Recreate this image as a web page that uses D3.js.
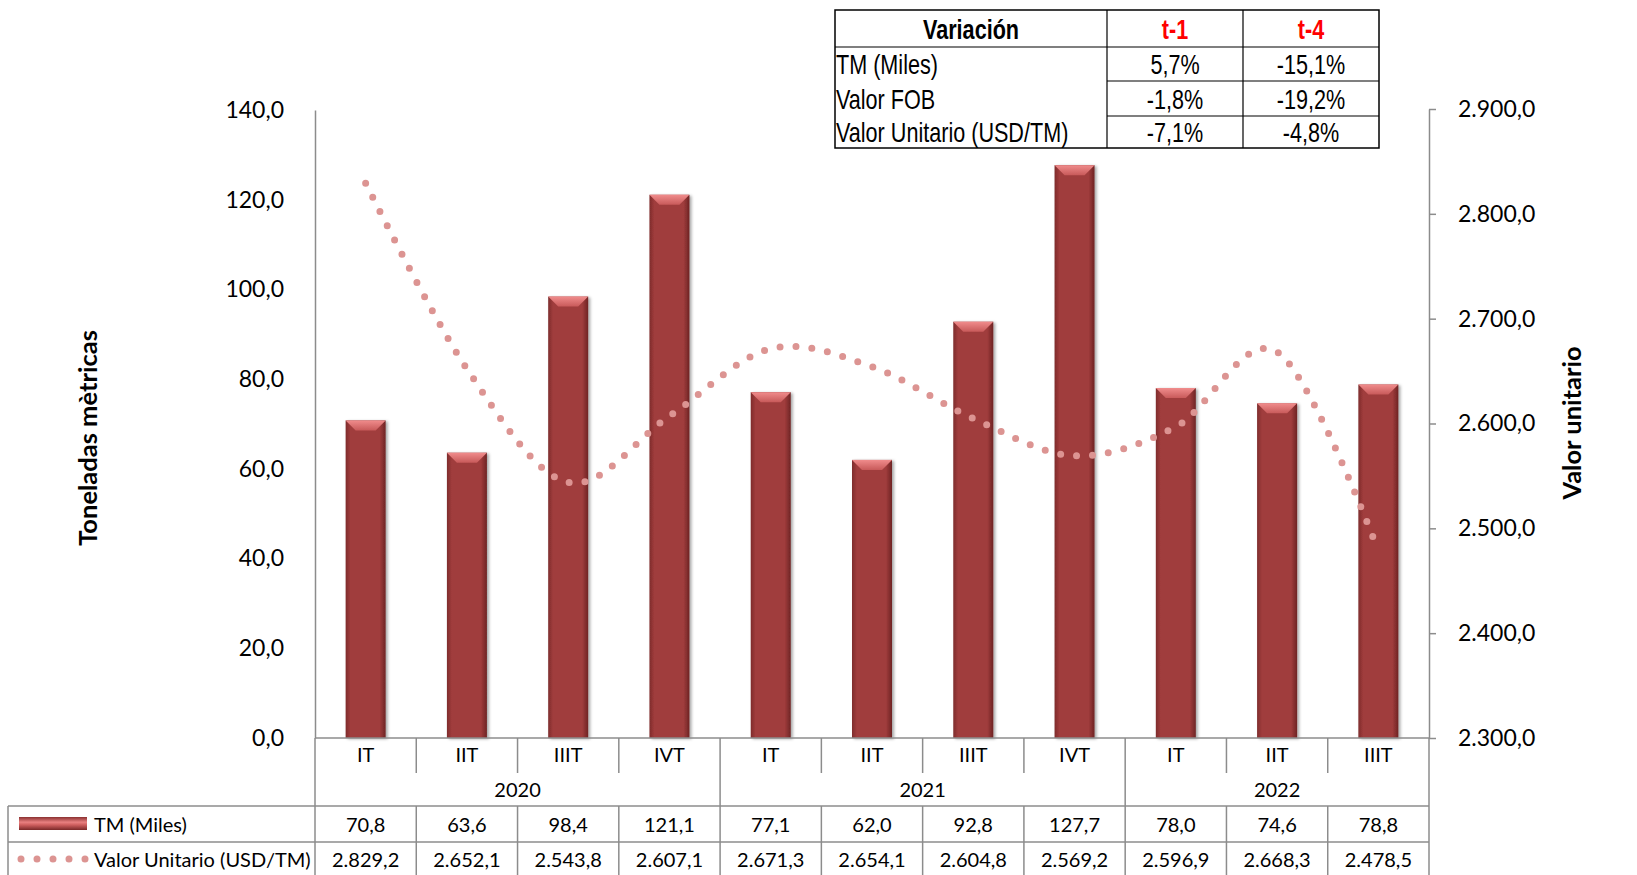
<!DOCTYPE html>
<html>
<head>
<meta charset="utf-8">
<script src="https://cdn.jsdelivr.net/npm/d3@7"></script>
<style>
  body { margin: 0; background: #fff; }
  svg { display: block; }
  .lbl { font-family: Lato, "Open Sans", sans-serif; fill: #000; }
  .nar { font-family: "Liberation Sans", Arial, sans-serif; fill: #000; }
</style>
</head>
<body>
<svg id="chart" width="1637" height="875"></svg>
<script>
// data
const quarters = ["IT", "IIT", "IIIT", "IVT", "IT", "IIT", "IIIT", "IVT", "IT", "IIT", "IIIT"];
const years = [
  { year: "2020", from: 0, to: 3 },
  { year: "2021", from: 4, to: 7 },
  { year: "2022", from: 8, to: 10 }
];
const tmMiles = [70.8, 63.6, 98.4, 121.1, 77.1, 62.0, 92.8, 127.7, 78.0, 74.6, 78.8];
const valorUnit = [2829.2, 2652.1, 2543.8, 2607.1, 2671.3, 2654.1, 2604.8, 2569.2, 2596.9, 2668.3, 2478.5];
const leftTicks = [0, 20, 40, 60, 80, 100, 120, 140];
const rightTicks = [2300, 2400, 2500, 2600, 2700, 2800, 2900];

const varHeader = ["Variación", "t-1", "t-4"];
const varRows = ["TM (Miles)", "Valor FOB", "Valor Unitario (USD/TM)"];
const varT1 = ["5,7%", "-1,8%", "-7,1%"];
const varT4 = ["-15,1%", "-19,2%", "-4,8%"];

const svg = d3.select("#chart");
const margin = { top: 110, left: 315, right: 1429, bottom: 738 };
const locale = d3.formatLocale({ decimal: ",", thousands: ".", grouping: [3] });
const fmt = locale.format(",.1f");
const keys = d3.range(quarters.length);

const x = d3.scaleBand().domain(keys).range([margin.left, margin.right]).paddingInner(0).paddingOuter(0);
const y = d3.scaleLinear().domain([0, 140]).range([margin.bottom, margin.top]);
const y2 = d3.scaleLinear().domain([2300, 2900]).range([margin.bottom, margin.top - 1]);

// gradients
const defs = svg.append("defs");
const barGrad = defs.append("linearGradient").attr("id", "barGrad").attr("x1", 0).attr("x2", 1).attr("y1", 0).attr("y2", 0);
barGrad.append("stop").attr("offset", "0%").attr("stop-color", "#7e2c2c");
barGrad.append("stop").attr("offset", "12%").attr("stop-color", "#a03c3c");
barGrad.append("stop").attr("offset", "85%").attr("stop-color", "#a03c3c");
barGrad.append("stop").attr("offset", "100%").attr("stop-color", "#6e2424");
const bevGrad = defs.append("linearGradient").attr("id", "bevGrad").attr("x1", 0).attr("x2", 0).attr("y1", 0).attr("y2", 1);
bevGrad.append("stop").attr("offset", "0%").attr("stop-color", "#f08c8c");
bevGrad.append("stop").attr("offset", "100%").attr("stop-color", "#c85a5a");
const keyGrad = defs.append("linearGradient").attr("id", "keyGrad").attr("x1", 0).attr("x2", 0).attr("y1", 0).attr("y2", 1);
keyGrad.append("stop").attr("offset", "0%").attr("stop-color", "#8a3030");
keyGrad.append("stop").attr("offset", "40%").attr("stop-color", "#e88080");
keyGrad.append("stop").attr("offset", "60%").attr("stop-color", "#d06060");
keyGrad.append("stop").attr("offset", "100%").attr("stop-color", "#7a2828");
const shadow = defs.append("filter").attr("id", "shadow").attr("x", "-30%").attr("y", "-10%").attr("width", "160%").attr("height", "130%");
shadow.append("feDropShadow").attr("dx", 2).attr("dy", 1).attr("stdDeviation", 1.5).attr("flood-color", "#000").attr("flood-opacity", 0.35);

// bars
const bw = 40;
const bars = svg.append("g").selectAll("g").data(tmMiles).enter().append("g");
bars.append("rect")
  .attr("x", (d, i) => x(i) + x.bandwidth() / 2 - bw / 2)
  .attr("y", d => y(d))
  .attr("width", bw)
  .attr("height", d => y(0) - y(d))
  .attr("fill", "url(#barGrad)")
  .attr("filter", "url(#shadow)");
bars.append("path")
  .attr("d", (d, i) => {
    const x0 = x(i) + x.bandwidth() / 2 - bw / 2, y0 = y(d), b = 10;
    return `M${x0},${y0}L${x0 + bw},${y0}L${x0 + bw - b},${y0 + b}L${x0 + b},${y0 + b}Z`;
  })
  .attr("fill", "url(#bevGrad)");

// dotted line
const line = d3.line()
  .curve(d3.curveCardinal.tension(0))
  .x((d, i) => x(i) + x.bandwidth() / 2)
  .y(d => y2(d));
const vuPath = svg.append("path")
  .datum(valorUnit)
  .attr("d", line)
  .attr("fill", "none")
  .attr("stroke", "#dc9492")
  .attr("stroke-width", 7)
  .attr("stroke-linecap", "round");
// spread the dots so one sits on each end of the curve
const len = vuPath.node().getTotalLength();
const gap = len / Math.round(len / 16);
vuPath.attr("stroke-dasharray", `0 ${gap}`);

// axes
const gridCol = "#8c8c8c";
const leftAxis = svg.append("g")
  .attr("transform", `translate(${margin.left},0)`)
  .call(d3.axisLeft(y).tickValues(leftTicks).tickFormat(fmt).tickSize(0).tickPadding(31));
leftAxis.select(".domain").attr("stroke", gridCol).attr("stroke-width", 1.5);
leftAxis.selectAll("text").attr("class", "lbl").style("font-size", "23px").attr("fill", "#000");

const rightAxis = svg.append("g")
  .attr("transform", `translate(${margin.right},0)`)
  .call(d3.axisRight(y2).tickValues(rightTicks).tickFormat(fmt).tickSize(7).tickSizeOuter(0).tickPadding(22));
rightAxis.selectAll(".domain, line").attr("stroke", gridCol).attr("stroke-width", 1.5);
rightAxis.selectAll("text").attr("class", "lbl").style("font-size", "23px").attr("fill", "#000");

// axis titles
svg.append("text").attr("class", "lbl")
  .attr("transform", "translate(87,438) rotate(-90)")
  .attr("text-anchor", "middle").attr("dominant-baseline", "central")
  .style("font-size", "25.5px").style("font-weight", "bold")
  .text("Toneladas mètricas");
svg.append("text").attr("class", "lbl")
  .attr("transform", "translate(1571,423) rotate(-90)")
  .attr("text-anchor", "middle").attr("dominant-baseline", "central")
  .style("font-size", "25.5px").style("font-weight", "bold")
  .text("Valor unitario");

// data table under the chart
const tbl = svg.append("g").attr("stroke", gridCol).attr("stroke-width", 1.5);
const rowYear = 806, rowTM = 842, rowEnd = 875, legL = 8;
tbl.append("line").attr("x1", margin.left).attr("x2", margin.right).attr("y1", margin.bottom).attr("y2", margin.bottom);
tbl.append("line").attr("x1", margin.left).attr("x2", margin.left).attr("y1", margin.bottom).attr("y2", rowEnd);
tbl.append("line").attr("x1", margin.right).attr("x2", margin.right).attr("y1", margin.bottom).attr("y2", rowEnd);
[rowYear, rowTM].forEach(yy => tbl.append("line").attr("x1", legL).attr("x2", margin.right).attr("y1", yy).attr("y2", yy));
tbl.append("line").attr("x1", legL).attr("x2", legL).attr("y1", rowYear).attr("y2", rowEnd);
keys.slice(1).forEach(i => {
  const isYear = years.some(g => g.from === i);
  tbl.append("line").attr("x1", x(i)).attr("x2", x(i))
    .attr("y1", margin.bottom).attr("y2", isYear ? rowEnd : margin.bottom + 35);
  if (!isYear)
    tbl.append("line").attr("x1", x(i)).attr("x2", x(i)).attr("y1", rowYear).attr("y2", rowEnd);
});

const txt = svg.append("g").attr("class", "lbl").style("font-size", "20px").attr("text-anchor", "middle");
txt.selectAll(".q").data(quarters).enter().append("text")
  .attr("x", (d, i) => x(i) + x.bandwidth() / 2).attr("y", 754).attr("dominant-baseline", "central").text(d => d);
txt.selectAll(".yr").data(years).enter().append("text")
  .attr("x", d => (x(d.from) + x(d.to) + x.bandwidth()) / 2).attr("y", 789).attr("dominant-baseline", "central").text(d => d.year);
txt.selectAll(".tm").data(tmMiles).enter().append("text")
  .attr("x", (d, i) => x(i) + x.bandwidth() / 2).attr("y", 824).attr("dominant-baseline", "central").text(d => fmt(d));
txt.selectAll(".vu").data(valorUnit).enter().append("text")
  .attr("x", (d, i) => x(i) + x.bandwidth() / 2).attr("y", 859).attr("dominant-baseline", "central").text(d => fmt(d));

// legend keys
svg.append("rect").attr("x", 19).attr("y", 817).attr("width", 68).attr("height", 13).attr("fill", "url(#keyGrad)");
svg.append("line").attr("x1", 21).attr("x2", 90).attr("y1", 859).attr("y2", 859)
  .attr("stroke", "#dc9492").attr("stroke-width", 7).attr("stroke-linecap", "round").attr("stroke-dasharray", "0 16");
svg.append("text").attr("class", "lbl").style("font-size", "20px").attr("x", 94).attr("y", 824)
  .attr("dominant-baseline", "central").text("TM (Miles)");
svg.append("text").attr("class", "lbl").style("font-size", "20px").attr("x", 94).attr("y", 859)
  .attr("dominant-baseline", "central").text("Valor Unitario (USD/TM)");

// variation table, top right (narrow font imitated with a horizontal squeeze)
const vx = [835, 1107, 1243, 1379];
const vy = [10, 47, 81, 116, 148];
const vt = svg.append("g");
vt.append("rect").attr("x", vx[0]).attr("y", vy[0]).attr("width", vx[3] - vx[0]).attr("height", vy[4] - vy[0])
  .attr("fill", "#fff").attr("stroke", "#000").attr("stroke-width", 1.5);
vt.append("line").attr("x1", vx[0]).attr("x2", vx[3]).attr("y1", vy[1]).attr("y2", vy[1]).attr("stroke", "#000").attr("stroke-width", 1.2);
[vy[2], vy[3]].forEach(yy => vt.append("line").attr("x1", vx[1]).attr("x2", vx[3]).attr("y1", yy).attr("y2", yy).attr("stroke", "#000").attr("stroke-width", 1.2));
[vx[1], vx[2]].forEach(xx => vt.append("line").attr("x1", xx).attr("x2", xx).attr("y1", vy[0]).attr("y2", vy[4]).attr("stroke", "#000").attr("stroke-width", 1.2));
function narrow(tx, ty, s, anchor, bold, color) {
  vt.append("text").attr("class", "nar")
    .attr("transform", `translate(${tx},${ty}) scale(0.8,1)`)
    .attr("text-anchor", anchor).attr("dominant-baseline", "central")
    .style("font-size", "27px").style("font-weight", bold ? "bold" : "normal")
    .style("fill", color || "#000").text(s);
}
varHeader.forEach((h, i) => narrow((vx[i] + vx[i + 1]) / 2, (vy[0] + vy[1]) / 2 + 1, h, "middle", true, i === 0 ? "#000" : "#ff0000"));
varRows.forEach((r, i) => {
  const cy = (vy[i + 1] + vy[i + 2]) / 2 + 1;
  narrow(vx[0] + 1, cy, r, "start");
  narrow((vx[1] + vx[2]) / 2, cy, varT1[i], "middle");
  narrow((vx[2] + vx[3]) / 2, cy, varT4[i], "middle");
});
</script>
</body>
</html>
